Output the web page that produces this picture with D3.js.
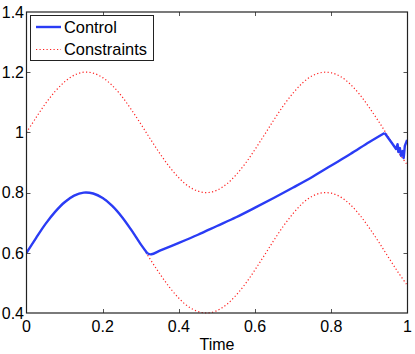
<!DOCTYPE html>
<html><head><meta charset="utf-8">
<script src="https://cdn.jsdelivr.net/npm/d3@7"></script>
<style>body{margin:0;background:#fff}svg{display:block}text{font-family:"Liberation Sans",Arial,sans-serif}</style>
</head><body>
<svg id="c" width="415" height="354"></svg>
<script>
// Data
const xTicks = [0, 0.2, 0.4, 0.6, 0.8, 1];
const xTickLabels = ["0", "0.2", "0.4", "0.6", "0.8", "1"];
const yTicks = [0.4, 0.6, 0.8, 1, 1.2, 1.4];
const yTickLabels = ["0.4", "0.6", "0.8", "1", "1.2", "1.4"];
const xLabel = "Time";
const seriesNames = ["Control", "Constraints"];

const constraintT = [0,0.025,0.05,0.075,0.1,0.125,0.15,0.175,0.2,0.225,0.25,0.275,0.3,0.325,0.35,0.375,0.4,0.425,0.45,0.475,0.5,0.525,0.55,0.575,0.6,0.625,0.65,0.675,0.7,0.725,0.75,0.775,0.8,0.825,0.85,0.875,0.9,0.925,0.95,0.975,1];
const upperConstraint = [1.000,1.049,1.096,1.136,1.168,1.190,1.200,1.197,1.182,1.156,1.120,1.076,1.028,0.978,0.930,0.886,0.849,0.821,0.805,0.800,0.808,0.828,0.859,0.898,0.944,0.993,1.043,1.090,1.131,1.165,1.188,1.199,1.198,1.185,1.160,1.125,1.082,1.035,0.985,0.936,0.891];
const lowerConstraint = [0.600,0.649,0.696,0.736,0.768,0.790,0.800,0.797,0.782,0.756,0.720,0.676,0.628,0.578,0.530,0.486,0.449,0.421,0.405,0.400,0.408,0.428,0.459,0.498,0.544,0.593,0.643,0.690,0.731,0.765,0.788,0.799,0.798,0.785,0.760,0.725,0.682,0.635,0.585,0.536,0.491];

const controlT = [0,0.025,0.05,0.075,0.1,0.125,0.15,0.175,0.2,0.225,0.25,0.275,0.3,0.318,0.328,0.35,0.4,0.45,0.5,0.55,0.6,0.65,0.7,0.75,0.8,0.85,0.9,0.94,0.959,0.970,0.974,0.976,0.980,0.983,0.987,0.990,0.993,0.999];
const controlV = [0.600,0.649,0.696,0.736,0.768,0.790,0.800,0.797,0.782,0.756,0.720,0.676,0.628,0.597,0.595,0.607,0.633,0.660,0.689,0.718,0.750,0.783,0.817,0.852,0.890,0.928,0.968,0.998,0.965,0.945,0.961,0.935,0.948,0.922,0.938,0.915,0.955,0.975];

const svg = d3.select("#c");
const L = 26.5, R = 407.5, T = 12, B = 313;
const x = d3.scaleLinear().domain([0, 1]).range([L, R]);
const y = d3.scaleLinear().domain([0.4, 1.4]).range([B, T]);

svg.append("rect").attr("width", 415).attr("height", 354).attr("fill", "#fff");

const defs = svg.append("defs");
defs.append("clipPath").attr("id", "clip").append("rect")
  .attr("x", L).attr("y", T - 2).attr("width", R - L).attr("height", B - T + 4);

const g = svg.append("g").attr("clip-path", "url(#clip)");
const line = d3.line().x(d => x(d[0])).y(d => y(d[1])).curve(d3.curveCatmullRom.alpha(0.5));
const lineLin = d3.line().x(d => x(d[0])).y(d => y(d[1]));

[upperConstraint, lowerConstraint].forEach(arr => {
  g.append("path").datum(constraintT.map((t, i) => [t, arr[i]]))
    .attr("d", line).attr("fill", "none").attr("stroke", "#ff2020")
    .attr("stroke-width", 1.2).attr("stroke-dasharray", "1.2,2.3");
});

const ctrl = controlT.map((t, i) => [t, controlV[i]]);
const smoothPart = ctrl.filter(d => d[0] <= 0.318);
const midPart = ctrl.filter(d => d[0] >= 0.318 && d[0] <= 0.94);
const endPart = ctrl.filter(d => d[0] >= 0.94);
const ctrlG = g.append("g").attr("fill", "none").attr("stroke", "#2a3cf5").attr("stroke-width", 2.4).attr("stroke-linejoin", "round");
ctrlG.append("path").datum(smoothPart).attr("d", line);
ctrlG.append("path").datum(midPart).attr("d", line);
ctrlG.append("path").datum(endPart).attr("d", lineLin);

// axes box with ticks on all sides
const axG = svg.append("g");
const tickLen = 4;
const tickColor = "#555";
xTicks.forEach((t, i) => {
  const px = Math.round(x(t)) + 0.5;
  if (i > 0 && i < xTicks.length - 1) {
    axG.append("line").attr("x1", px).attr("x2", px).attr("y1", B).attr("y2", B - tickLen).attr("stroke", tickColor);
    axG.append("line").attr("x1", px).attr("x2", px).attr("y1", T).attr("y2", T + tickLen).attr("stroke", tickColor);
  }
  axG.append("text").attr("x", x(t)).attr("y", 332).attr("text-anchor", "middle")
    .attr("font-size", 16).attr("fill", "#000").text(xTickLabels[i]);
});
yTicks.forEach((t, i) => {
  const py = Math.round(y(t)) + 0.5;
  if (i > 0 && i < yTicks.length - 1) {
    axG.append("line").attr("x1", L).attr("x2", L + tickLen).attr("y1", py).attr("y2", py).attr("stroke", tickColor);
    axG.append("line").attr("x1", R).attr("x2", R - tickLen).attr("y1", py).attr("y2", py).attr("stroke", tickColor);
  }
  axG.append("text").attr("x", 24).attr("y", y(t) + 5.8).attr("text-anchor", "end")
    .attr("font-size", 16).attr("fill", "#000").text(yTickLabels[i]);
});
axG.append("rect").attr("x", L).attr("y", T).attr("width", R - L).attr("height", B - T)
  .attr("fill", "none").attr("stroke", "#222").attr("stroke-width", 1.2);

svg.append("text").attr("x", (L + R) / 2).attr("y", 350).attr("text-anchor", "middle")
  .attr("font-size", 16).attr("fill", "#000").text(xLabel);

// legend
const lg = svg.append("g");
lg.append("rect").attr("x", 30.5).attr("y", 15.5).attr("width", 123).attr("height", 45)
  .attr("fill", "#fff").attr("stroke", "#222").attr("stroke-width", 1);
lg.append("line").attr("x1", 36).attr("x2", 61).attr("y1", 27).attr("y2", 27)
  .attr("stroke", "#2a3cf5").attr("stroke-width", 2.4);
lg.append("line").attr("x1", 36).attr("x2", 61).attr("y1", 49.5).attr("y2", 49.5)
  .attr("stroke", "#ff2020").attr("stroke-width", 1.2).attr("stroke-dasharray", "1.2,2.3");
lg.append("text").attr("x", 64).attr("y", 32.8).attr("font-size", 16.4).attr("fill", "#000").text(seriesNames[0]);
lg.append("text").attr("x", 64).attr("y", 55.3).attr("font-size", 16.4).attr("fill", "#000").text(seriesNames[1]);
</script>
</body></html>
